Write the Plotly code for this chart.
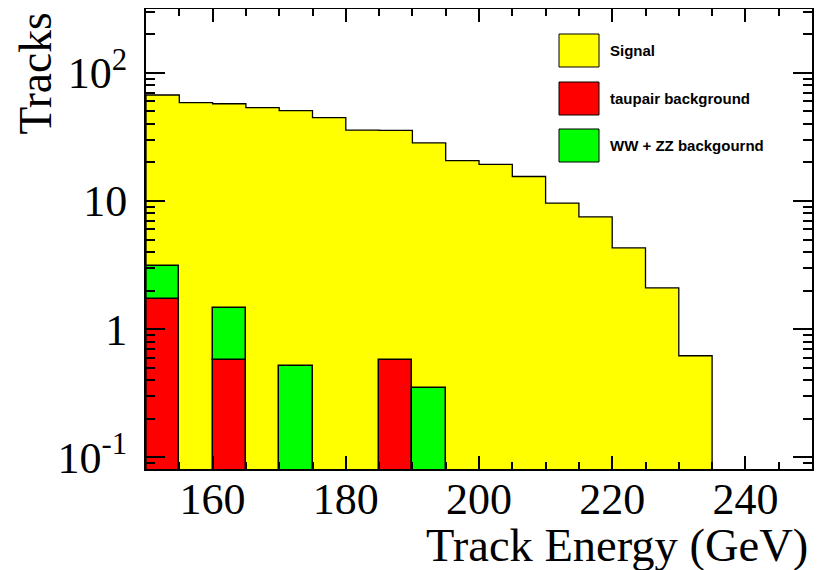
import plotly.graph_objects as go
import numpy as np

# ---- data ----
bin_edges = list(range(150, 240, 5))           # 150..235
signal = [63.9, 58.4, 55.8, 53.4, 50.1, 44.6, 35.7, 34.9, 28.0, 20.6,
          19.3, 15.5, 9.6, 7.5, 4.3, 2.1, 0.62]
taupair = [1.72, 0, 0.573, 0, 0, 0, 0, 0.573, 0, 0, 0, 0, 0, 0, 0, 0, 0]
wwzz = [1.41, 0, 0.90, 0, 0.517, 0, 0, 0, 0.35, 0, 0, 0, 0, 0, 0, 0, 0]
legend_labels = ["Signal", "taupair background", "WW + ZZ backgournd"]
x_ticks = [160, 180, 200, 220, 240]
y_ticks = [0.1, 1, 10, 100]
y_ticktext = ["10<sup>-1</sup>", "1", "10", "10<sup>2</sup>"]

edges = np.array(bin_edges, dtype=float)
lo = edges[:-1]
hi = edges[1:]
centers = (lo + hi) / 2
width = 5.0
tau = np.array(taupair)
ww = np.array(wwzz)
sig = np.array(signal)
total = sig + tau + ww

# layout geometry: page body has an 8px margin, so the figure is shifted
OFF = 8
W, H = 823 - OFF, 570 - OFF
FL, FR, FT, FB = 146, 812, 9, 469      # frame in window pixels
ML, MR, MT, MB = FL - OFF, W - (FR - OFF), FT - OFF, H - (FB - OFF)
PW, PH = W - ML - MR, H - MT - MB
def px(x):
    return (x - FL) / PW
def py(y):
    return (FB - y) / PH

XR = [150, 250]
YR = [-1.091, 2.497]

fig = go.Figure()

# signal (stack total) fill
fig.add_trace(go.Bar(x=centers, y=total, width=width,
                     marker=dict(color="#ffff00", line=dict(width=0)),
                     showlegend=False, hoverinfo="skip"))
# taupair
fig.add_trace(go.Bar(x=centers, y=[v if v > 0 else None for v in tau], width=width,
                     marker=dict(color="#ff0000", line=dict(color="black", width=1.5)),
                     showlegend=False))
# WW+ZZ stacked on taupair
fig.add_trace(go.Bar(x=centers, y=[v if v > 0 else None for v in ww],
                     base=[b if b > 0 else 0 for b in tau], width=width,
                     marker=dict(color="#00ff00", line=dict(color="black", width=1.5)),
                     showlegend=False))

# step outline of the stack total
xs = [lo[0]]
ys = [1e-3]
for a, b, t in zip(lo, hi, total):
    xs += [a, b]
    ys += [t, t]
xs.append(hi[-1])
ys.append(1e-3)
fig.add_trace(go.Scatter(x=xs, y=ys, mode="lines",
                         line=dict(color="black", width=1.3),
                         showlegend=False, hoverinfo="skip"))

# dummy trace for mirrored (top/right) axes
fig.add_trace(go.Scatter(x=[None], y=[None], xaxis="x2", yaxis="y2",
                         showlegend=False, hoverinfo="skip"))

minor_y = []
for d in [-2, -1, 0, 1, 2]:
    for k in range(2, 10):
        minor_y.append(k * 10.0 ** d)

xcommon = dict(range=XR, showgrid=False, zeroline=False, automargin=False,
               showline=True, linecolor="black", linewidth=2,
               ticks="inside", ticklen=13, tickwidth=1.5, tickcolor="black",
               tickvals=x_ticks,
               minor=dict(ticks="inside", ticklen=7, tickwidth=1.5, tickcolor="black",
                          tick0=150, dtick=5, showgrid=False))
ycommon = dict(type="log", range=YR, showgrid=False, zeroline=False, automargin=False,
               showline=True, linecolor="black", linewidth=2,
               ticks="inside", ticklen=19, tickwidth=1.5, tickcolor="black",
               tickvals=y_ticks,
               minor=dict(ticks="inside", ticklen=9, tickwidth=1.5, tickcolor="black",
                          tickvals=minor_y, showgrid=False))

fig.update_layout(
    width=W, height=H,
    margin=dict(l=ML, r=MR, t=MT, b=MB, autoexpand=False),
    paper_bgcolor="white", plot_bgcolor="white",
    barmode="overlay", bargap=0,
    showlegend=False,
    font=dict(family="Liberation Serif", color="black"),
    xaxis=dict(**xcommon, tickfont=dict(size=44, family="Liberation Serif"),
               ticklabelstandoff=-10),
    yaxis=dict(**ycommon, ticktext=y_ticktext,
               tickfont=dict(size=44, family="Liberation Serif"),
               ticklabelstandoff=8),
    xaxis2=dict(**xcommon, overlaying="x", side="top", showticklabels=False),
    yaxis2=dict(**ycommon, overlaying="y", side="right", showticklabels=False),
)

# axis titles
fig.add_annotation(text="Track Energy (GeV)", xref="paper", yref="paper",
                   x=px(810), y=py(573), xanchor="right", yanchor="bottom",
                   showarrow=False, font=dict(size=46.5, family="Liberation Serif"))
fig.add_annotation(text="Tracks", xref="paper", yref="paper",
                   x=px(8), y=py(11), xanchor="left", yanchor="top", textangle=-90,
                   showarrow=False, font=dict(size=45.5, family="Liberation Serif"))

# legend
colors = ["#ffff00", "#ff0000", "#00ff00"]
box_tops = [34, 82, 129]
for lab, col, top in zip(legend_labels, colors, box_tops):
    fig.add_shape(type="rect", xref="paper", yref="paper",
                  x0=px(559), x1=px(599), y0=py(top), y1=py(top + 33),
                  fillcolor=col, line=dict(color="black", width=1))
    fig.add_annotation(text="<b>%s</b>" % lab, xref="paper", yref="paper",
                       x=px(608), y=py(top + 16.5), xanchor="left", yanchor="middle",
                       showarrow=False,
                       font=dict(size=15, family="Liberation Sans", color="black"))

fig.write_html("out.html")
